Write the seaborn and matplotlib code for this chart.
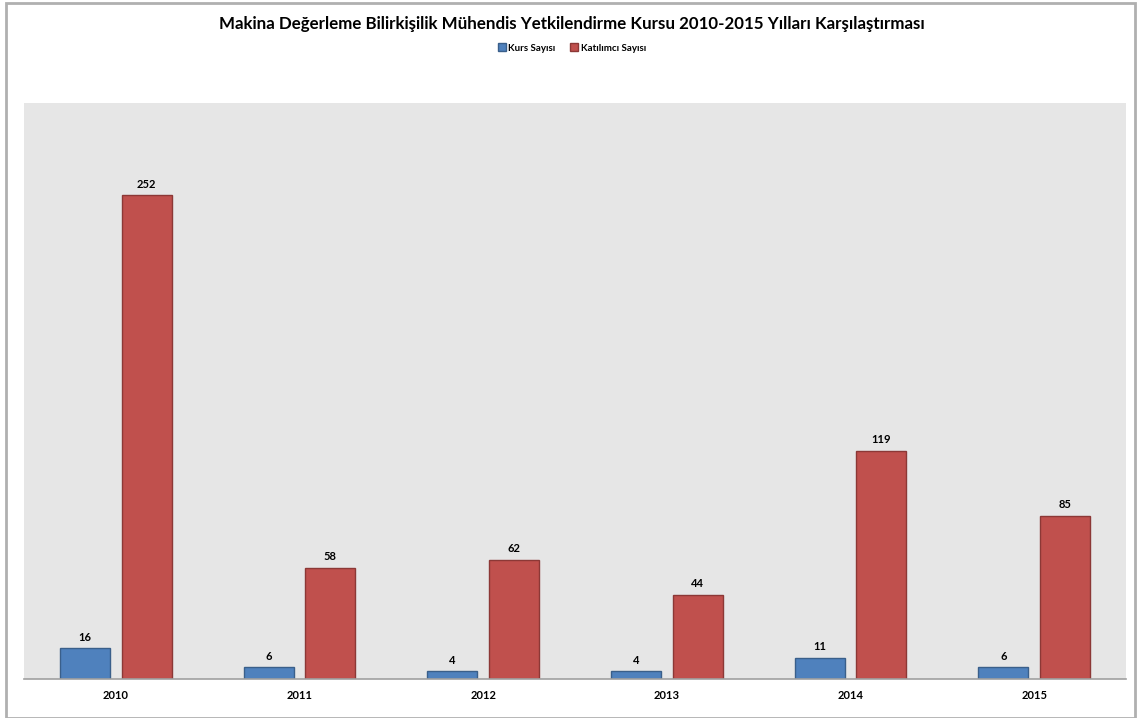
import pandas as pd
import matplotlib.pyplot as plt
import seaborn as sns
from matplotlib.patches import Rectangle

years = ["2010", "2011", "2012", "2013", "2014", "2015"]
kurs = [16, 6, 4, 4, 11, 6]
katilimci = [252, 58, 62, 44, 119, 85]
series_names = ["Kurs Sayısı", "Katılımcı Sayısı"]

data = pd.DataFrame({
    "Yıl": years * 2,
    "Değer": kurs + katilimci,
    "Seri": [series_names[0]] * len(years) + [series_names[1]] * len(years),
})

sns.set_theme()
sns.set_style("white")
plt.rcParams['font.family'] = ['Lato', 'DejaVu Sans']
plt.rcParams['text.color'] = 'black'
plt.rcParams['xtick.color'] = 'black'

fig = plt.figure(figsize=(11.4, 7.18), dpi=100)
ax = fig.add_axes([24/1140, 1 - 679/718, 1102/1140, 576/718])
ax.set_facecolor("#e6e6e6")

sns.barplot(x="Yıl", y="Değer", hue="Seri", data=data, ax=ax,
            palette=["#4f81bd", "#c0504d"], saturation=1, width=0.67, gap=0.19,
            edgecolor="#3a5f8a", linewidth=1, legend=False)
for bar in ax.patches[len(years):]:
    bar.set_edgecolor("#8c3836")

for c in ax.containers:
    ax.bar_label(c, fontsize=8, fontweight="bold", padding=4, color="black")

ax.set_ylim(0, 300)
ax.set_xlim(-0.5, 5.5)
ax.set_yticks([])
ax.set_xlabel("")
ax.set_ylabel("")
ax.tick_params(axis="x", length=0, labelsize=8, pad=8, labelcolor="black")
for lbl in ax.get_xticklabels():
    lbl.set_fontweight("bold")
for s in ["top", "right", "left"]:
    ax.spines[s].set_visible(False)
ax.spines["bottom"].set_color("#a0a0a0")
ax.spines["bottom"].set_linewidth(1.2)

fig.text(572/1140, 1 - 24/718, "Makina Değerleme Bilirkişilik Mühendis Yetkilendirme Kursu 2010-2015 Yılları Karşılaştırması",
         ha="center", va="center", fontsize=12.2, fontweight="bold", color="black")

handles = [Rectangle((0, 0), 1, 1, facecolor="#4f81bd", edgecolor="#3a5f8a"),
           Rectangle((0, 0), 1, 1, facecolor="#c0504d", edgecolor="#8c3836")]
leg = fig.legend(handles, series_names, loc="center", bbox_to_anchor=(572/1140, 1 - 48/718),
                 ncol=2, frameon=False, fontsize=7, handlelength=0.8, handleheight=0.8,
                 handletextpad=0.3, columnspacing=1.5)
for t in leg.get_texts():
    t.set_fontweight("bold")
    t.set_color("black")

fig.add_artist(Rectangle((6/1140, 0.0), 1129/1140, 1 - 3/718, transform=fig.transFigure,
                         fill=False, edgecolor="#b0b0b0", linewidth=2))

fig.savefig("out.png", dpi=100)
